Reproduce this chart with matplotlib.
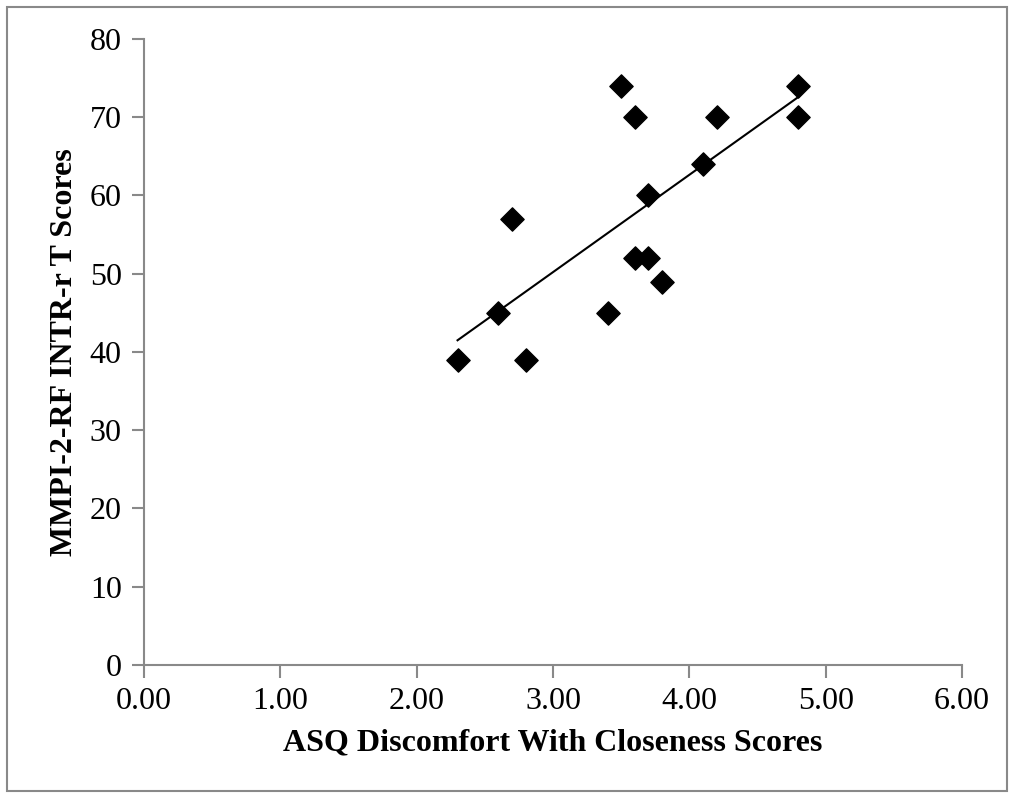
import numpy as np
import matplotlib.pyplot as plt
from matplotlib.patches import Rectangle

# ASQ discomfort with closeness vs MMPI-2-RF INTR-r T scores
asq_scores = [2.3, 2.6, 2.7, 2.8, 3.4, 3.5, 3.6, 3.6, 3.7, 3.7, 3.8, 4.1, 4.2, 4.8, 4.8]
intr_scores = [39, 45, 57, 39, 45, 74, 70, 52, 60, 52, 49, 64, 70, 74, 70]
x_ticks = [0, 1, 2, 3, 4, 5, 6]
y_ticks = [0, 10, 20, 30, 40, 50, 60, 70, 80]

plt.rcParams['font.family'] = ['Liberation Serif', 'DejaVu Serif']
grey = '#898989'

fig = plt.figure(figsize=(10.09, 7.94), dpi=100)
ax = fig.add_axes([0.1427, 0.1625, 0.8107, 0.7884])

ax.scatter(asq_scores, intr_scores, marker='D', s=140, color='black', zorder=3)

# linear trend line over the data range
k, b = np.polyfit(asq_scores, intr_scores, 1)
xs = np.array([min(asq_scores), max(asq_scores)])
ax.plot(xs, k * xs + b, color='black', lw=1.5, zorder=2)

ax.set_xlim(0, 6)
ax.set_ylim(0, 80)
ax.set_xticks(x_ticks)
ax.set_xticklabels([f'{v:.2f}' for v in x_ticks])
ax.set_yticks(y_ticks)
ax.tick_params(direction='out', length=9, width=1.5, color=grey, labelsize=23, pad=7)

for s in ['top', 'right']:
    ax.spines[s].set_visible(False)
for s in ['left', 'bottom']:
    ax.spines[s].set_color(grey)
    ax.spines[s].set_linewidth(1.5)

ax.set_xlabel('ASQ Discomfort With Closeness Scores', fontsize=23, fontweight='bold', labelpad=9)
ax.set_ylabel('MMPI-2-RF INTR-r T Scores', fontsize=23, fontweight='bold', labelpad=8)

# chart border like the spreadsheet export
fig.patches.append(Rectangle((0.007, 0.004), 0.991, 0.987, transform=fig.transFigure,
                             fill=False, edgecolor=grey, lw=1.5))

fig.savefig('out.png', dpi=100)
